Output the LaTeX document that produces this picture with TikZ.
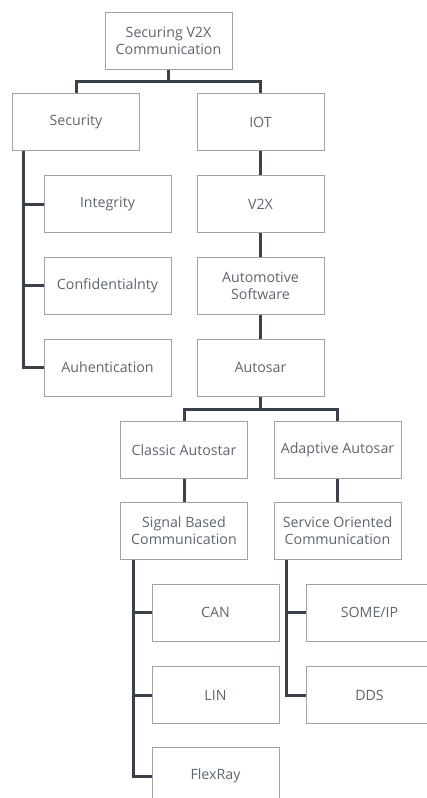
\documentclass[tikz,border=0pt]{standalone}
\usepackage{fontspec}
\setmainfont{Open Sans}
\definecolor{boxline}{HTML}{A3A3A3}
\definecolor{boxtext}{HTML}{5E6670}
\definecolor{wire}{HTML}{3A414B}
\begin{document}
\begin{tikzpicture}[x=1pt,y=-1pt,
  box/.style={draw=boxline, line width=1pt, minimum width=127pt, minimum height=57pt,
    inner sep=0pt, align=center, text=boxtext, font=\fontsize{14.2}{17}\selectfont},
  wireline/.style={draw=wire, line width=3pt}]
\useasboundingbox (0,0) rectangle (427,798);
\clip (0,0) rectangle (427,798);
\fill[white] (0,0) rectangle (427,798);

% root
\node[box] (top) at (168.5,40.5) {Securing V2X\\Communication};

% security branch
\node[box] (sec)  at (76,122)    {Security};
\node[box] (int)  at (107.5,204) {Integrity};
\node[box] (conf) at (107.5,285.5) {Confidentialnty};
\node[box] (auth) at (107.5,367.5) {Auhentication};

% IOT chain
\node[box] (iot)     at (260.5,122)   {IOT};
\node[box] (v2x)     at (260.5,204)   {V2X};
\node[box] (autosw)  at (260.5,285.5) {Automotive\\Software};
\node[box] (autosar) at (260.5,367.5) {Autosar};

% AUTOSAR platforms
\node[box] (classic)  at (184,450)   {Classic Autostar};
\node[box] (adaptive) at (337.5,450) {Adaptive Autosar};
\node[box] (signal)   at (184,531)   {Signal Based\\Communication};
\node[box] (service)  at (337.5,531) {Service Oriented\\Communication};

% buses
\node[box] (can)    at (215.5,612.5) {CAN};
\node[box] (lin)    at (215.5,695)   {LIN};
\node[box] (flex)   at (215.5,776)   {FlexRay};
\node[box] (someip) at (369.5,612.5) {SOME/IP};
\node[box] (dds)    at (369.5,695)   {DDS};

% tree connectors
\draw[wireline] (top.south) -- ++(0,12) -| (sec.north);
\draw[wireline] (top.south) -- ++(0,12) -| (iot.north);
\draw[wireline] (iot) -- (v2x);
\draw[wireline] (v2x) -- (autosw);
\draw[wireline] (autosw) -- (autosar);
\draw[wireline] (autosar.south) -- ++(0,13) -| (classic.north);
\draw[wireline] (autosar.south) -- ++(0,13) -| (adaptive.north);
\draw[wireline] (classic) -- (signal);
\draw[wireline] (adaptive) -- (service);

% side buses
\draw[wireline] ([xshift=11pt]sec.south west) |- (auth.west);
\draw[wireline] ([xshift=11pt]sec.south west) |- (int.west);
\draw[wireline] ([xshift=11pt]sec.south west) |- (conf.west);
\draw[wireline] ([xshift=13pt]signal.south west) |- (flex.west);
\draw[wireline] ([xshift=13pt]signal.south west) |- (can.west);
\draw[wireline] ([xshift=13pt]signal.south west) |- (lin.west);
\draw[wireline] ([xshift=13pt]service.south west) |- (dds.west);
\draw[wireline] ([xshift=13pt]service.south west) |- (someip.west);
\end{tikzpicture}
\end{document}
